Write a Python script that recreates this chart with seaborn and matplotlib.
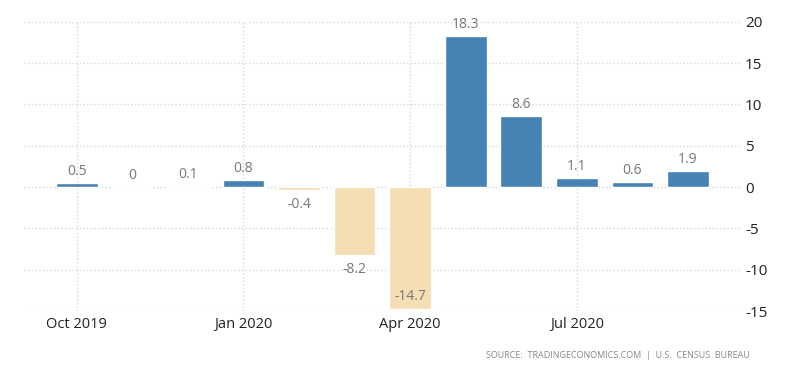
import numpy as np
import pandas as pd
import matplotlib
matplotlib.use("Agg")
import matplotlib.pyplot as plt
import seaborn as sns

# data
months = ["Oct 2019", "Nov 2019", "Dec 2019", "Jan 2020", "Feb 2020", "Mar 2020",
          "Apr 2020", "May 2020", "Jun 2020", "Jul 2020", "Aug 2020", "Sep 2020"]
values = [0.5, 0, 0.1, 0.8, -0.4, -8.2, -14.7, 18.3, 8.6, 1.1, 0.6, 1.9]
tick_labels = ["Oct 2019", "Jan 2020", "Apr 2020", "Jul 2020"]
y_ticks = [-15, -10, -5, 0, 5, 10, 15, 20]
source = "SOURCE:  TRADINGECONOMICS.COM  |  U.S.  CENSUS  BUREAU"

BLUE = "#4682b4"
WHEAT = "#f5deb3"

sns.set_style("white")
plt.rcParams["font.family"] = ["Open Sans", "DejaVu Sans"]

df = pd.DataFrame({"month": months, "value": values})
colors = [BLUE if v >= 0 else WHEAT for v in values]

fig = plt.figure(figsize=(8, 3.73), dpi=100)
ax = fig.add_axes([0.03, 0.1662, 0.896, 0.7756])

sns.barplot(data=df, x="month", y="value", hue="month", palette=colors,
            legend=False, width=0.75, saturation=1, ax=ax)

ax.set_ylim(-15, 20)
ax.set_xlim(-0.95, 11.95)

# grid
ax.set_yticks(y_ticks)
ax.set_yticklabels([str(t) for t in y_ticks])
tick_pos = [months.index(t) for t in tick_labels]
ax.set_xticks(tick_pos)
ax.set_xticklabels(tick_labels)
ax.grid(True, color="#d8d8d8", linestyle=":", linewidth=1)
ax.set_axisbelow(True)

ax.yaxis.tick_right()
ax.tick_params(axis="y", length=0, pad=3, labelsize=11, labelcolor="#222222")
ax.tick_params(axis="x", length=0, pad=4, labelsize=10.5, labelcolor="#222222")
for lab in ax.get_yticklabels():
    lab.set_horizontalalignment("left")
for s in ax.spines.values():
    s.set_visible(False)
ax.set_xlabel("")
ax.set_ylabel("")

# value labels
lo = ax.get_ylim()[0]
for i, v in enumerate(values):
    txt = f"{v:g}"
    if v >= 0:
        ax.annotate(txt, (i, v), xytext=(0, 3), textcoords="offset points",
                    ha="center", va="bottom", fontsize=10, color="#777777")
    elif v < lo + 1.5:
        ax.annotate(txt, (i, lo), xytext=(0, 5), textcoords="offset points",
                    ha="center", va="bottom", fontsize=10, color="#777777")
    else:
        ax.annotate(txt, (i, v), xytext=(0, -5), textcoords="offset points",
                    ha="center", va="top", fontsize=10, color="#777777")

fig.text(750 / 800, 1 - 356 / 373, source, ha="right", va="center",
         fontsize=6.5, color="#888888")

fig.savefig("out.png", dpi=100)
